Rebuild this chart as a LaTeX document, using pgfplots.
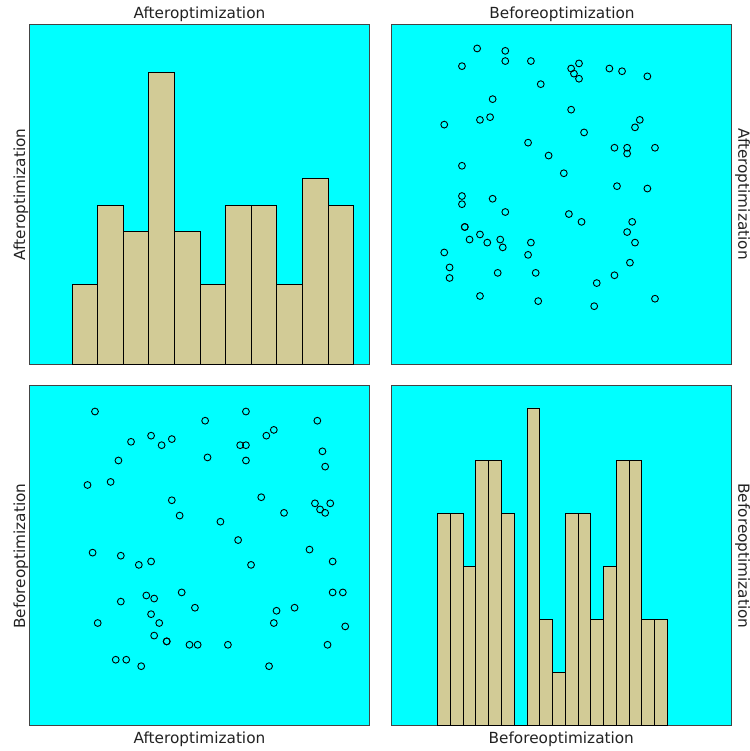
\documentclass[border=0pt]{standalone}
\usepackage{pgfplots}
\usepackage{pgfplotstable}
\pgfplotsset{compat=1.18}
\usepackage{fontspec}
\setmainfont{DejaVu Sans}
\definecolor{bg}{HTML}{00FFFF}
\definecolor{barc}{HTML}{D2CB96}
\definecolor{framec}{HTML}{444444}
\definecolor{txt}{HTML}{222222}

\pgfplotstableread{
A B
19.2 92.4
51.6 89.7
63.6 92.4
84.6 89.7
29.8 83.5
35.7 85.3
38.8 82.5
41.8 84.3
69.6 85.3
71.8 87.0
61.9 82.5
63.6 82.5
26.1 78.0
52.3 78.9
63.6 78.0
86.1 80.7
86.9 76.2
17.0 70.8
23.8 71.7
41.8 66.3
44.1 61.8
68.1 67.2
83.9 65.4
85.4 63.6
88.4 65.4
86.9 62.6
74.8 62.6
56.1 60.0
61.3 54.6
18.5 50.9
26.8 50.0
32.1 47.3
35.7 48.3
65.1 47.3
82.3 51.8
89.1 48.3
26.8 36.5
34.3 38.3
36.6 37.4
44.7 39.2
48.6 34.7
89.1 39.2
92.1 39.2
20.0 30.2
35.7 32.8
38.1 30.2
72.6 33.8
77.9 34.7
71.8 30.2
92.8 29.2
36.6 26.5
40.3 24.8
40.3 24.8
47.0 23.8
49.4 23.8
58.3 23.8
87.6 23.8
25.3 19.4
28.4 19.4
32.8 17.5
70.4 17.5
}\scatterdata

\pgfplotstableread{
bin count
0 3
1 6
2 5
3 11
4 5
5 3
6 6
7 6
8 3
9 7
10 6
11 6
}\histafter

\pgfplotstableread{
bin count
0 4
1 4
2 3
3 5
4 5
5 4
6 0
7 6
8 2
9 1
10 4
11 4
12 2
13 3
14 5
15 5
16 2
17 2
18 2
}\histbefore

\pgfplotsset{panel/.style={scale only axis, width=340pt, height=340pt,
  axis background/.style={fill=bg}, ticks=none,
  axis line style={framec, line width=0.8pt}, anchor=south west}}

\begin{document}
\begin{tikzpicture}[x=1pt,y=1pt]
\useasboundingbox (0,0) rectangle (749,751);
% top-left histogram
\begin{axis}[panel, at={(29.7pt,386.7pt)}, xmin=-1.656, xmax=11.626, ymin=0, ymax=12.83]
\addplot[ybar interval, fill=barc, draw=black, line width=0.8pt] table[x=bin,y=count]{\histafter};
\end{axis}
% top-right scatter
\begin{axis}[panel, at={(391.7pt,387pt)}, xmin=-1.17, xmax=119.67, ymin=0, ymax=100]
\addplot[only marks, mark=o, mark size=3.4pt, black, mark options={line width=0.9pt}] table[x=B,y=A]{\scatterdata};
\end{axis}
% bottom-left scatter
\begin{axis}[panel, at={(29.7pt,25.3pt)}, xmin=0, xmax=100, ymin=0, ymax=100]
\addplot[only marks, mark=o, mark size=3.4pt, black, mark options={line width=0.9pt}] table[x=A,y=B]{\scatterdata};
\end{axis}
% bottom-right histogram
\begin{axis}[panel, at={(391.3pt,25.3pt)}, xmin=-3.63, xmax=23.02, ymin=0, ymax=6.42]
\addplot[ybar interval, fill=barc, draw=black, line width=0.8pt] table[x=bin,y=count]{\histbefore};
\end{axis}
\begin{scope}[every node/.style={font=\fontsize{15.3}{18}\selectfont, text=txt, inner sep=0pt}]
\node[anchor=base] at (199.5,732) {Afteroptimization};
\node[anchor=base] at (562,732) {Beforeoptimization};
\node[anchor=base] at (199.5,7.7) {Afteroptimization};
\node[anchor=base] at (561.3,7.7) {Beforeoptimization};
\node[anchor=base, rotate=90] at (25,556.5) {Afteroptimization};
\node[anchor=base, rotate=90] at (25,194.8) {Beforeoptimization};
\node[anchor=base, rotate=-90] at (738.3,557) {Afteroptimization};
\node[anchor=base, rotate=-90] at (738.3,195) {Beforeoptimization};
\end{scope}
\end{tikzpicture}
\end{document}
